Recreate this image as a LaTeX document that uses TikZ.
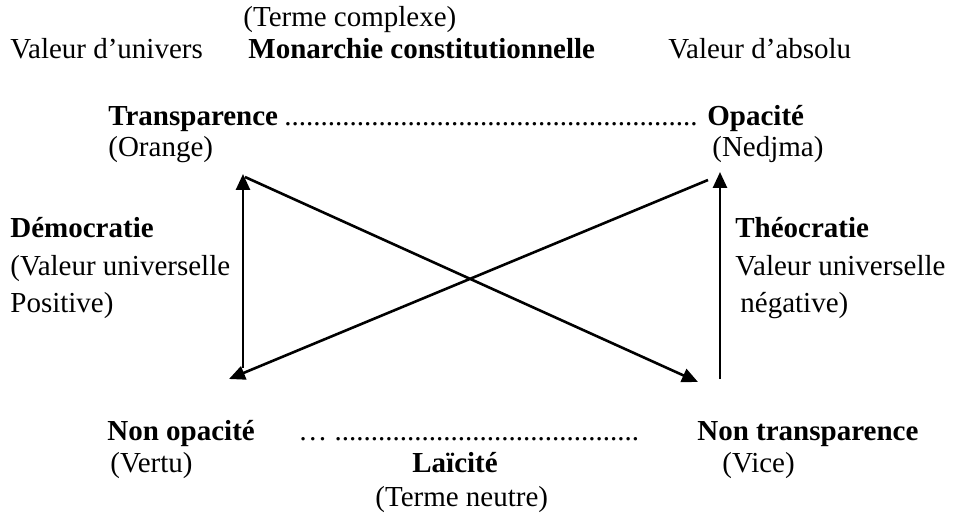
\documentclass[tikz,border=0pt]{standalone}
\usepackage{fontspec}
\setmainfont{Liberation Serif}
\usetikzlibrary{arrows.meta}

\begin{document}
\begin{tikzpicture}[x=0.5pt,y=-0.5pt,
  txt/.style={anchor=base west,inner sep=0pt,font=\fontsize{14.5}{17}\selectfont},
  bold/.style={txt,font=\fontsize{14.5}{17}\selectfont\bfseries},
  arr/.style={line width=1.3pt,-{Triangle[length=8pt,width=7pt]}}]
  \useasboundingbox (0,0) rectangle (960,519);
  % top labels
  \node[txt] (complexe) at (243,27) {(Terme complexe)};
  \node[txt] (univers) at (10,59) {Valeur d'univers};
  \node[bold] (monarchie) at (248,59) {Monarchie constitutionnelle};
  \node[txt] (absolu) at (668,59) {Valeur d'absolu};
  % upper corners
  \node[bold] (transp) at (108,126) {Transparence};
  \node[txt] (topdots) at (284,126) {.........................................................};
  \node[bold] (opac) at (707,126) {Opacité};
  \node[txt] (orange) at (108,157) {(Orange)};
  \node[txt] (nedjma) at (712,157) {(Nedjma)};
  % sides
  \node[bold] (demo) at (10,238) {Démocratie};
  \node[txt] (demo1) at (10,276) {(Valeur universelle};
  \node[txt] (demo2) at (10,313) {Positive)};
  \node[bold] (theo) at (735,238) {Théocratie};
  \node[txt] (theo1) at (735,276) {Valeur universelle};
  \node[txt] (theo2) at (740,313) {négative)};
  % lower corners
  \node[bold] (nonop) at (107,440) {Non opacité};
  \node[txt] (botdots) at (298,440) {\ldots\ ..........................................};
  \node[bold] (nontr) at (697,440) {Non transparence};
  \node[txt] (vertu) at (110,473) {(Vertu)};
  \node[bold] (laic) at (412,473) {Laïcité};
  \node[txt] (vice) at (722,473) {(Vice)};
  \node[txt] (neutre) at (375,506) {(Terme neutre)};
  % arrows
  \coordinate (tl) at (243,174);
  \coordinate (lb) at (243,368);
  \coordinate (tr) at (720,172);
  \coordinate (rb) at (720,379);
  \coordinate (tls) at (245,177);
  \coordinate (br) at (698,382);
  \coordinate (trs) at (708,180);
  \coordinate (bl) at (229,379);
  \draw[arr] (lb) -- (tl);
  \draw[arr] (rb) -- (tr);
  \draw[arr] (tls) -- (br);
  \draw[arr] (trs) -- (bl);
\end{tikzpicture}
\end{document}
